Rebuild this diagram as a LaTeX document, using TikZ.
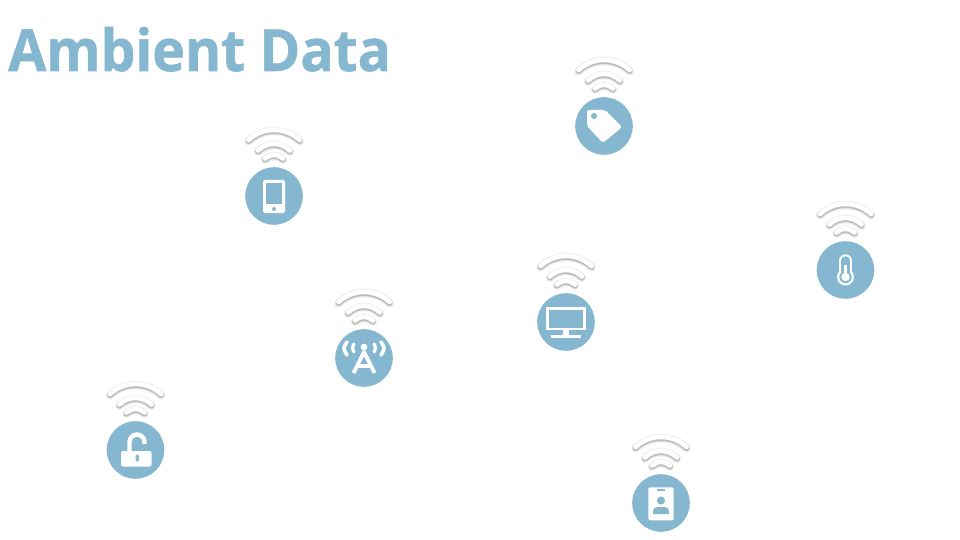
\documentclass[tikz,border=0pt]{standalone}
\usepackage{fontspec}
\setmainfont{Open Sans}[BoldFeatures={FakeStretch=0.952,FakeBold=1}]
\definecolor{ambient}{RGB}{133,183,209}
\tikzset{
  devicedot/.style={circle, fill=ambient, minimum size=57.6pt, inner sep=0pt},
  wifiglow/.style={draw=black, line cap=round, fill=none},
  wifibar/.style={draw=white, line width=4.6pt, line cap=round, fill=none},
  iconfill/.style={fill=white, draw=none},
  iconhole/.style={fill=ambient, draw=none},
  iconline/.style={draw=white, line width=3.2pt, line cap=round, fill=none}
}
\newcommand{\wifiarcs}[1]{
  \path (-25.5,-56) arc[start angle=133, end angle=47, radius=37.5pt] [#1];
  \path (-16,-45.5) arc[start angle=135, end angle=45, radius=22.6pt] [#1];
  \path (-9,-37.5) arc[start angle=135, end angle=45, radius=12.7pt] [#1];
}
\newcommand{\wifisign}[1]{
  \begin{scope}[shift={(#1.center)}]
    \begin{scope}[shift={(0,1.2)}]
      \wifiarcs{wifiglow, line width=9pt, opacity=0.04}
      \wifiarcs{wifiglow, line width=7.5pt, opacity=0.06}
      \wifiarcs{wifiglow, line width=5.8pt, opacity=0.18}
    \end{scope}
    \wifiarcs{wifibar}
  \end{scope}
}
\begin{document}
\begin{tikzpicture}[x=1pt, y=-1pt]
\useasboundingbox (0,0) rectangle (960,540);

\node[anchor=base west, inner sep=0pt, text=ambient, font=\fontsize{58}{58}\selectfont\bfseries] (title) at (8,71) {Ambient Data};

\node[devicedot] (phone) at (274,196) {};
\node[devicedot] (tag) at (604,126) {};
\node[devicedot] (thermo) at (845.5,270) {};
\node[devicedot] (monitor) at (566,322) {};
\node[devicedot] (tower) at (364,358) {};
\node[devicedot] (lock) at (135.5,450) {};
\node[devicedot] (badge) at (661,503) {};

\foreach \dev in {phone, tag, thermo, monitor, tower, lock, badge}{
  \wifisign{\dev}
}

% phone
\begin{scope}[shift={(phone.center)}]
\fill[iconfill, rounded corners=2pt] (-11,-16) rectangle (11,17);
\fill[iconhole] (-8,-13) rectangle (8,8);
\fill[iconhole] (0,13) circle (2pt);
\end{scope}

% tag
\begin{scope}[shift={(tag.center)}]
\fill[iconfill, rounded corners=2pt] (-17,-16) -- (1,-16) -- (18,1) -- (-1,17) -- (-17,0) -- cycle;
\fill[iconhole] (-10,-10) circle (3pt);
\end{scope}

% thermometer
\begin{scope}[shift={(thermo.center)}]
\draw[iconline, line width=13.5pt] (0,-9) -- (0,8);
\fill[iconfill] (0,7) circle (8.5pt);
\draw[draw=ambient, line width=8.6pt, line cap=round] (0,-9.5) -- (0,7);
\fill[iconhole] (0,7) circle (6.2pt);
\draw[draw=white, line width=3pt] (0,-5) -- (0,7);
\fill[iconfill] (0,7) circle (4.2pt);
\end{scope}

% monitor
\begin{scope}[shift={(monitor.center)}]
\fill[iconfill] (-20,-15) rectangle (20,8);
\fill[iconhole] (-17,-12) rectangle (17,6);
\fill[iconfill] (-3,8) rectangle (3,13);
\fill[iconfill] (-15,13) rectangle (15,16);
\end{scope}

% tower
\begin{scope}[shift={(tower.center)}]
\draw[iconline, line width=3.8pt, line cap=butt, line join=round] (-10.5,15) -- (0,-6) -- (10.5,15);
\draw[iconline, line cap=butt] (-6,8) -- (6,8);
\fill[iconfill] (0,-11) circle (3.4pt);
\draw[iconline] (-10,-14) .. controls (-12,-10) .. (-10,-6);
\draw[iconline] (10,-14) .. controls (12,-10) .. (10,-6);
\draw[iconline, line width=3.6pt] (-17,-16) .. controls (-21,-10) .. (-17,-3);
\draw[iconline, line width=3.6pt] (17,-16) .. controls (21,-10) .. (17,-3);
\end{scope}

% lock
\begin{scope}[shift={(lock.center)}]
\fill[iconfill, rounded corners=2pt] (-14.5,1) rectangle (16,16.5);
\fill[iconhole, rounded corners=1.5pt] (0,4.5) rectangle (3.6,11.5);
\draw[iconline, line width=4.4pt, line cap=butt] (-6,2) -- (-6,-8) arc[start angle=180, end angle=0, radius=7.5pt] -- (9,-6);
\end{scope}

% badge
\begin{scope}[shift={(badge.center)}]
\fill[iconfill, rounded corners=1.5pt] (-12.7,-15.7) rectangle (12.7,17.3);
\fill[iconhole] (-4,-14) rectangle (4,-12.5);
\fill[iconhole] (0,-2.5) circle (4pt);
\fill[iconhole] (-8,11) -- (-8,8.5) .. controls (-8,4) and (-4,4) .. (0,4) .. controls (4,4) and (8,4) .. (8,8.5) -- (8,11) -- cycle;
\end{scope}
\end{tikzpicture}
\end{document}
